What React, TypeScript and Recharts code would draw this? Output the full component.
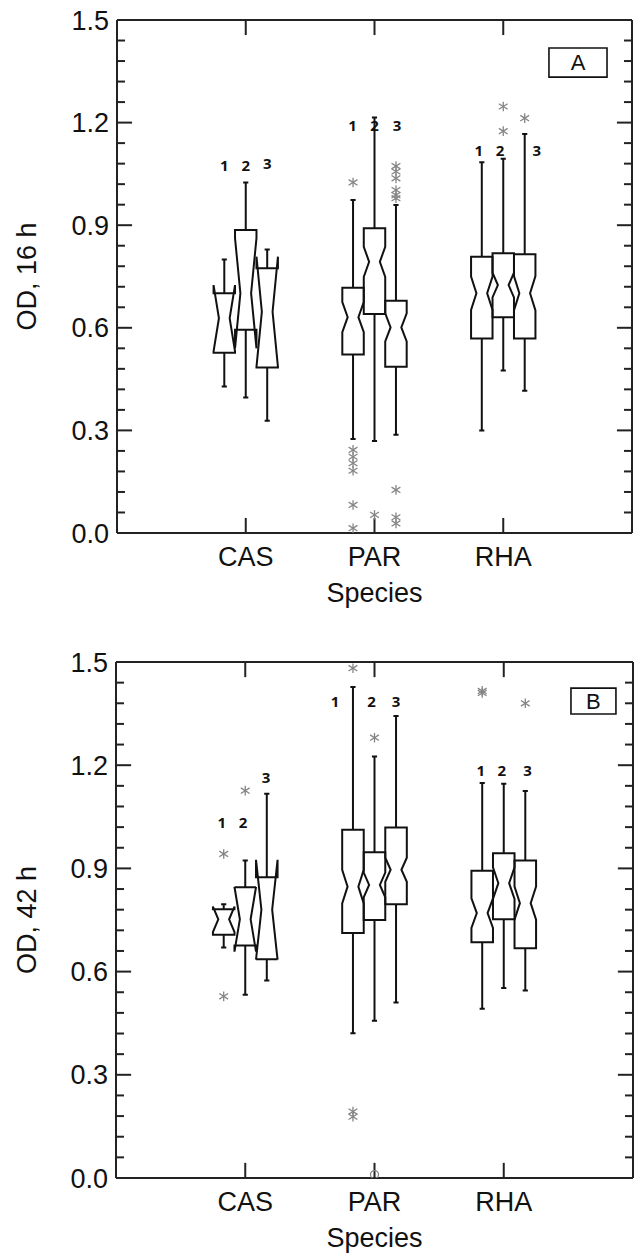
import React from 'react';
import { ComposedChart, XAxis, YAxis, Scatter, ReferenceLine, ReferenceArea, Label } from 'recharts';

// ---------- data ----------
const categories = ['CAS', 'PAR', 'RHA'];
const categoryTicks = [1, 2, 3];
const yTicks = [0, 0.3, 0.6, 0.9, 1.2, 1.5];
const yMinorTicks = [0.06, 0.12, 0.18, 0.24, 0.36, 0.42, 0.48, 0.54, 0.66, 0.72, 0.78, 0.84, 0.96, 1.02, 1.08, 1.14, 1.26, 1.32, 1.38, 1.44];
const subLabels = ['1', '2', '3'];

// Panel A (OD, 16 h): order CAS1..3, PAR1..3, RHA1..3
const lowA = [0.428, 0.396, 0.328, 0.275, 0.269, 0.287, 0.3, 0.475, 0.416];
const q1A = [0.527, 0.594, 0.484, 0.522, 0.64, 0.486, 0.569, 0.631, 0.569];
const medA = [0.628, 0.701, 0.647, 0.631, 0.793, 0.601, 0.701, 0.725, 0.701];
const q3A = [0.701, 0.886, 0.774, 0.717, 0.891, 0.679, 0.808, 0.818, 0.815];
const highA = [0.8, 1.025, 0.829, 0.974, 1.215, 0.959, 1.084, 1.094, 1.167];
const notchA = [0.097, 0.161, 0.161, 0.044, 0.044, 0.041, 0.049, 0.036, 0.05];
const outliersA = [
  [], [], [],
  [1.025, 0.243, 0.223, 0.204, 0.182, 0.082, 0.014],
  [0.053],
  [1.073, 1.057, 1.037, 1.003, 0.988, 0.979, 0.126, 0.046, 0.028],
  [], [1.247, 1.175], [1.213],
];
const farOutliersA = [[], [], [], [], [], [], [], [], []];
// sub-label positions (x in category units, y in OD)
const labelXA = [0.833, 1.0, 1.167, 1.83, 2.0, 2.175, 2.81, 2.975, 3.26];
const labelYA = [1.076, 1.076, 1.082, 1.193, 1.193, 1.193, 1.12, 1.12, 1.12];

// Panel B (OD, 42 h)
const lowB = [0.67, 0.533, 0.574, 0.421, 0.457, 0.51, 0.492, 0.552, 0.545];
const q1B = [0.707, 0.676, 0.636, 0.712, 0.75, 0.796, 0.685, 0.752, 0.668];
const medB = [0.752, 0.752, 0.78, 0.847, 0.852, 0.896, 0.77, 0.857, 0.799];
const q3B = [0.781, 0.845, 0.874, 1.012, 0.947, 1.019, 0.893, 0.944, 0.923];
const highB = [0.796, 0.923, 1.117, 1.427, 1.225, 1.343, 1.148, 1.146, 1.125];
const notchB = [0.037, 0.094, 0.145, 0.049, 0.036, 0.035, 0.043, 0.046, 0.048];
const outliersB = [
  [0.942, 0.528], [1.126], [],
  [1.482, 0.193, 0.178], [1.28], [],
  [1.416, 1.41], [], [1.38],
];
const farOutliersB = [[], [], [], [], [0.01], [], [], [], []];
const labelXB = [0.818, 0.983, 1.161, 1.694, 1.978, 2.166, 2.822, 2.984, 3.185];
const labelYB = [1.036, 1.036, 1.167, 1.387, 1.387, 1.387, 1.187, 1.187, 1.187];

// ---------- styles ----------
const FONT = "'Liberation Sans', Arial, sans-serif";
const INK = '#111';
const BOX_HALF = 1 / 12;
const NOTCH_INNER = BOX_HALF / 2;
const CAP = 0.02;
const OFFSETS = [-1 / 6, 0, 1 / 6];
const TICK_MAJOR_X = 0.117;
const TICK_MINOR_X = 0.062;
const TICK_Y = 0.044;

const centerOf = (i: number) => categoryTicks[Math.floor(i / 3)] + OFFSETS[i % 3];

function boxPoints(c: number, lo: number, q1: number, md: number, q3: number, hi: number, n: number) {
  const p = (x: number, y: number) => ({ x, y });
  return [
    p(c - CAP, hi), p(c + CAP, hi), p(c, hi), p(c, q3),
    p(c + BOX_HALF, q3), p(c + BOX_HALF, md + n), p(c + NOTCH_INNER, md), p(c + BOX_HALF, md - n), p(c + BOX_HALF, q1),
    p(c, q1), p(c, lo), p(c - CAP, lo), p(c + CAP, lo), p(c, lo), p(c, q1),
    p(c - BOX_HALF, q1), p(c - BOX_HALF, md - n), p(c - NOTCH_INNER, md), p(c - BOX_HALF, md + n), p(c - BOX_HALF, q3), p(c, q3),
  ];
}

const Empty = () => <g />;

const Asterisk = (props: any) => {
  const { cx, cy } = props;
  if (cx == null || cy == null) return <g />;
  const r = 4.8;
  const dx = 4.4;
  const dy = 2.8;
  return (
    <g stroke="#858585" strokeWidth={1.3}>
      <line x1={cx} y1={cy - r} x2={cx} y2={cy + r} />
      <line x1={cx - dx} y1={cy - dy} x2={cx + dx} y2={cy + dy} />
      <line x1={cx - dx} y1={cy + dy} x2={cx + dx} y2={cy - dy} />
    </g>
  );
};

const Ring = (props: any) => {
  const { cx, cy } = props;
  if (cx == null || cy == null) return <g />;
  return <circle cx={cx} cy={cy} r={4} fill="none" stroke="#858585" strokeWidth={1.3} />;
};

const SubLabel = (props: any) => {
  const { cx, cy, payload } = props;
  if (cx == null || cy == null) return <g />;
  return (
    <text x={cx} y={cy} textAnchor="middle" dominantBaseline="central" fontFamily="'Noto Sans', 'Open Sans', sans-serif" fontWeight={700} fontSize={15} fill="#111">
      {payload.t}
    </text>
  );
};

type PanelProps = {
  top: number; height: number; marginTop: number; yAxisWidth: number; rightMargin: number; bottomMargin: number;
  low: number[]; q1: number[]; med: number[]; q3: number[]; high: number[]; notch: number[];
  outliers: number[][]; far: number[][]; labelX: number[]; labelY: number[];
  yTitle: string; tag: string; tagBox: [number, number, number, number];
};

function Panel(p: PanelProps) {
  const outPts: { x: number; y: number }[] = [];
  p.outliers.forEach((vals, i) => vals.forEach((v) => outPts.push({ x: centerOf(i), y: v })));
  const farPts: { x: number; y: number }[] = [];
  p.far.forEach((vals, i) => vals.forEach((v) => farPts.push({ x: centerOf(i), y: v })));
  const labelPts = p.labelX.map((x, i) => ({ x, y: p.labelY[i], t: subLabels[i % 3] }));

  return (
    <div style={{ position: 'absolute', left: 0, top: p.top, width: 637, height: p.height }}>
      <ComposedChart width={637} height={p.height} margin={{ top: p.marginTop, right: p.rightMargin, left: 0, bottom: p.bottomMargin }}>
        <XAxis
          type="number" dataKey="x" domain={[0, 4]} allowDataOverflow ticks={categoryTicks} interval={0}
          tickFormatter={(v: number) => categories[v - 1] ?? ''}
          tickLine={false} tickSize={0} tickMargin={14} height={60}
          axisLine={{ stroke: '#222', strokeWidth: 2 }}
          tick={{ fontSize: 27, fill: INK, fontFamily: FONT }}
        >
          <Label
            content={(lp: any) => {
              const vb = lp.viewBox;
              return (
                <text x={vb.x + vb.width / 2} y={vb.y + 60} textAnchor="middle" dominantBaseline="central" fontSize={27} fontFamily={FONT} fill={INK}>
                  Species
                </text>
              );
            }}
          />
        </XAxis>
        <YAxis
          type="number" dataKey="y" domain={[0, 1.5]} allowDataOverflow ticks={yTicks} interval={0}
          tickFormatter={(v: number) => v.toFixed(1)}
          tickLine={false} tickSize={0} tickMargin={8} width={p.yAxisWidth}
          axisLine={{ stroke: '#222', strokeWidth: 2 }}
          tick={{ fontSize: 27, fill: INK, fontFamily: FONT }}
        >
          <Label
            content={(lp: any) => {
              const vb = lp.viewBox;
              const x = vb.x + 27;
              const y = vb.y + vb.height / 2;
              return (
                <text x={x} y={y} transform={`rotate(-90 ${x} ${y})`} textAnchor="middle" dominantBaseline="central" fontSize={27} fontFamily={FONT} fill={INK}>
                  {p.yTitle}
                </text>
              );
            }}
          />
        </YAxis>

        {/* frame */}
        <ReferenceLine y={1.5} stroke="#222" strokeWidth={2} ifOverflow="visible" />
        <ReferenceLine x={4} stroke="#222" strokeWidth={2} ifOverflow="visible" />

        {/* inward ticks */}
        {yTicks.filter((v) => v > 0 && v < 1.5).map((v) => (
          <ReferenceLine key={`lM${v}`} segment={[{ x: 0, y: v }, { x: TICK_MAJOR_X, y: v }]} stroke="#222" strokeWidth={2} ifOverflow="visible" />
        ))}
        {yTicks.filter((v) => v > 0 && v < 1.5).map((v) => (
          <ReferenceLine key={`rM${v}`} segment={[{ x: 4 - TICK_MAJOR_X, y: v }, { x: 4, y: v }]} stroke="#222" strokeWidth={2} ifOverflow="visible" />
        ))}
        {yMinorTicks.map((v) => (
          <ReferenceLine key={`lm${v}`} segment={[{ x: 0, y: v }, { x: TICK_MINOR_X, y: v }]} stroke="#222" strokeWidth={2} ifOverflow="visible" />
        ))}
        {yMinorTicks.map((v) => (
          <ReferenceLine key={`rm${v}`} segment={[{ x: 4 - TICK_MINOR_X, y: v }, { x: 4, y: v }]} stroke="#222" strokeWidth={2} ifOverflow="visible" />
        ))}
        {categoryTicks.map((c) => (
          <ReferenceLine key={`b${c}`} segment={[{ x: c, y: 0 }, { x: c, y: TICK_Y }]} stroke="#222" strokeWidth={2} ifOverflow="visible" />
        ))}
        {categoryTicks.map((c) => (
          <ReferenceLine key={`t${c}`} segment={[{ x: c, y: 1.5 - TICK_Y }, { x: c, y: 1.5 }]} stroke="#222" strokeWidth={2} ifOverflow="visible" />
        ))}

        {/* panel tag */}
        <ReferenceArea
          x1={p.tagBox[0]} x2={p.tagBox[1]} y1={p.tagBox[2]} y2={p.tagBox[3]}
          fill="#fff" fillOpacity={1} stroke="#111" strokeWidth={1.6} ifOverflow="visible"
          label={{ value: p.tag, position: 'center', fontSize: 22, fill: INK, fontFamily: FONT }}
        />

        {/* boxes */}
        {p.low.map((lo, i) => (
          <Scatter
            key={`box${i}`}
            isAnimationActive={false}
            data={boxPoints(centerOf(i), lo, p.q1[i], p.med[i], p.q3[i], p.high[i], p.notch[i])}
            line={{ stroke: INK, strokeWidth: 2, strokeLinejoin: 'miter', strokeMiterlimit: 3 } as any}
            lineJointType="linear"
            shape={<Empty />}
          />
        ))}

        <Scatter isAnimationActive={false} data={outPts} shape={<Asterisk />} />
        <Scatter isAnimationActive={false} data={farPts} shape={<Ring />} />
        <Scatter isAnimationActive={false} data={labelPts} shape={<SubLabel />} />
      </ComposedChart>
    </div>
  );
}

export default function App() {
  return (
    <div style={{ position: 'absolute', left: 0, top: 0, width: 637, height: 1256, background: '#fff' }}>
      <Panel
        top={0} height={628} marginTop={20} yAxisWidth={117} rightMargin={5} bottomMargin={35}
        low={lowA} q1={q1A} med={medA} q3={q3A} high={highA} notch={notchA}
        outliers={outliersA} far={farOutliersA} labelX={labelXA} labelY={labelYA}
        yTitle="OD, 16 h" tag="A" tagBox={[3.355, 3.806, 1.333, 1.418]}
      />
      <Panel
        top={642} height={614} marginTop={20} yAxisWidth={116} rightMargin={4} bottomMargin={18}
        low={lowB} q1={q1B} med={medB} q3={q3B} high={highB} notch={notchB}
        outliers={outliersB} far={farOutliersB} labelX={labelXB} labelY={labelYB}
        yTitle="OD, 42 h" tag="B" tagBox={[3.52, 3.868, 1.349, 1.424]}
      />
    </div>
  );
}
